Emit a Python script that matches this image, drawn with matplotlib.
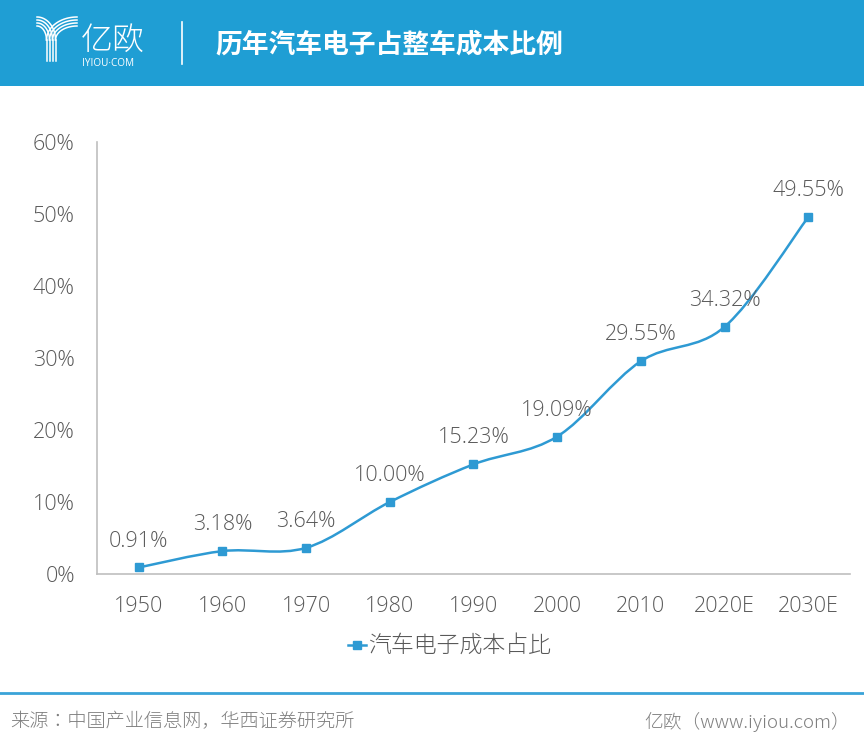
import numpy as np
import matplotlib
matplotlib.use("Agg")
import matplotlib.pyplot as plt
from matplotlib.path import Path
from matplotlib.patches import PathPatch, Rectangle
from matplotlib.ticker import FuncFormatter

# JP face of the pan-CJK font is the one registered with a light weight
plt.rcParams['font.family'] = ['Noto Sans CJK JP', 'DejaVu Sans']
NUM_FONT = ['Open Sans', 'DejaVu Sans']

# data
years = ['1950', '1960', '1970', '1980', '1990', '2000', '2010', '2020E', '2030E']
share = [0.91, 3.18, 3.64, 10.00, 15.23, 19.09, 29.55, 34.32, 49.55]
title = '历年汽车电子占整车成本比例'
series_name = '汽车电子成本占比'
source = '来源：中国产业信息网，华西证券研究所'
credit = '亿欧（www.iyiou.com）'

BLUE = '#1F9ED4'
LINE = '#2E9AD3'
GRAY = '#595959'

fig = plt.figure(figsize=(8.64, 7.5), dpi=100)
fig.patch.set_facecolor('white')

# overlay in pixel coords for header / footer decoration
deco = fig.add_axes([0, 0, 1, 1])
deco.set_xlim(0, 864)
deco.set_ylim(750, 0)
deco.axis('off')
deco.add_patch(Rectangle((0, 0), 864, 86, color=BLUE, lw=0))

# logo: a Y made of four parallel strokes
stem = [46.5, 49.5, 52.5, 55.5]
th = np.linspace(0, np.pi / 2, 40)
for i in range(4):
    y0 = 17 + 3 * i
    xs = 37 + (stem[3 - i] - 37) * np.sin(th)
    ys = y0 + (40 - y0) * (1 - np.cos(th))
    deco.plot(xs, ys, color='white', lw=1.1)
    xs = 77 + (stem[i] - 77) * np.sin(th)
    deco.plot(xs, ys, color='white', lw=1.1)
    deco.plot([stem[i], stem[i]], [40, 61], color='white', lw=1.1)
deco.text(81, 41, '亿欧', color='white', fontsize=23, va='center', ha='left',
          fontweight=300)
deco.text(82, 63, 'IYIOU·COM', color='white', fontsize=7.2, va='center', ha='left',
          family=NUM_FONT)
deco.plot([182, 182], [22, 64], color='white', lw=1.2)
deco.text(215, 44, title, color='white', fontsize=19.3, fontweight='bold',
          va='center', ha='left')

# footer
deco.plot([0, 864], [693, 693], color='#3AA3D8', lw=2)
deco.text(10, 722, source, color='#7F7F7F', fontsize=13.8, va='center', ha='left',
          fontweight=300)
deco.text(850, 722, credit, color='#7F7F7F', fontsize=13.5, va='center', ha='right',
          fontweight=300)

# main chart
ax = fig.add_axes([97 / 864, 1 - 574 / 750, 753 / 864, 432 / 750])
ax.patch.set_alpha(0)
x = np.arange(len(years))
y = np.array(share)

# smooth line (Catmull-Rom converted to cubic Bezier segments)
verts = [(x[0], y[0])]
codes = [Path.MOVETO]
n = len(x)
for i in range(n - 1):
    p0 = np.array([x[max(i - 1, 0)], y[max(i - 1, 0)]])
    p1 = np.array([x[i], y[i]])
    p2 = np.array([x[i + 1], y[i + 1]])
    p3 = np.array([x[min(i + 2, n - 1)], y[min(i + 2, n - 1)]])
    c1 = p1 + (p2 - p0) / 6
    c2 = p2 - (p3 - p1) / 6
    verts += [tuple(c1), tuple(c2), tuple(p2)]
    codes += [Path.CURVE4] * 3
ax.add_patch(PathPatch(Path(verts, codes), fill=False, edgecolor=LINE, lw=1.8))
ax.plot(x, y, linestyle='none', marker='s', markersize=6, color=LINE)

for xi, yi in zip(x, y):
    ax.annotate(f'{yi:.2f}%', (xi, yi), xytext=(0, 19), textcoords='offset points',
                ha='center', va='center', fontsize=15.5, color=GRAY,
                family=NUM_FONT, fontweight=300)

ax.set_xlim(-0.5, n - 0.5)
ax.set_ylim(0, 60)
ax.set_yticks(np.arange(0, 61, 10))
ax.yaxis.set_major_formatter(FuncFormatter(lambda v, p: f'{v:.0f}%'))
ax.set_xticks(x)
ax.set_xticklabels(years)
ax.tick_params(length=0, labelsize=15.5, labelcolor=GRAY)
ax.tick_params(axis='y', pad=16)
ax.tick_params(axis='x', pad=16)
for lbl in ax.get_xticklabels() + ax.get_yticklabels():
    lbl.set_family(NUM_FONT)
    lbl.set_fontweight(300)
for s in ['top', 'right']:
    ax.spines[s].set_visible(False)
for s in ['left', 'bottom']:
    ax.spines[s].set_color('#BFBFBF')
    ax.spines[s].set_linewidth(1.2)

# legend
deco.plot([348, 366], [645, 645], color=LINE, lw=1.8)
deco.plot([357], [645], marker='s', markersize=6, color=LINE)
deco.text(368, 645, series_name, color=GRAY, fontsize=16.5, va='center', ha='left',
          fontweight=300)

fig.savefig('out.png', dpi=100)
